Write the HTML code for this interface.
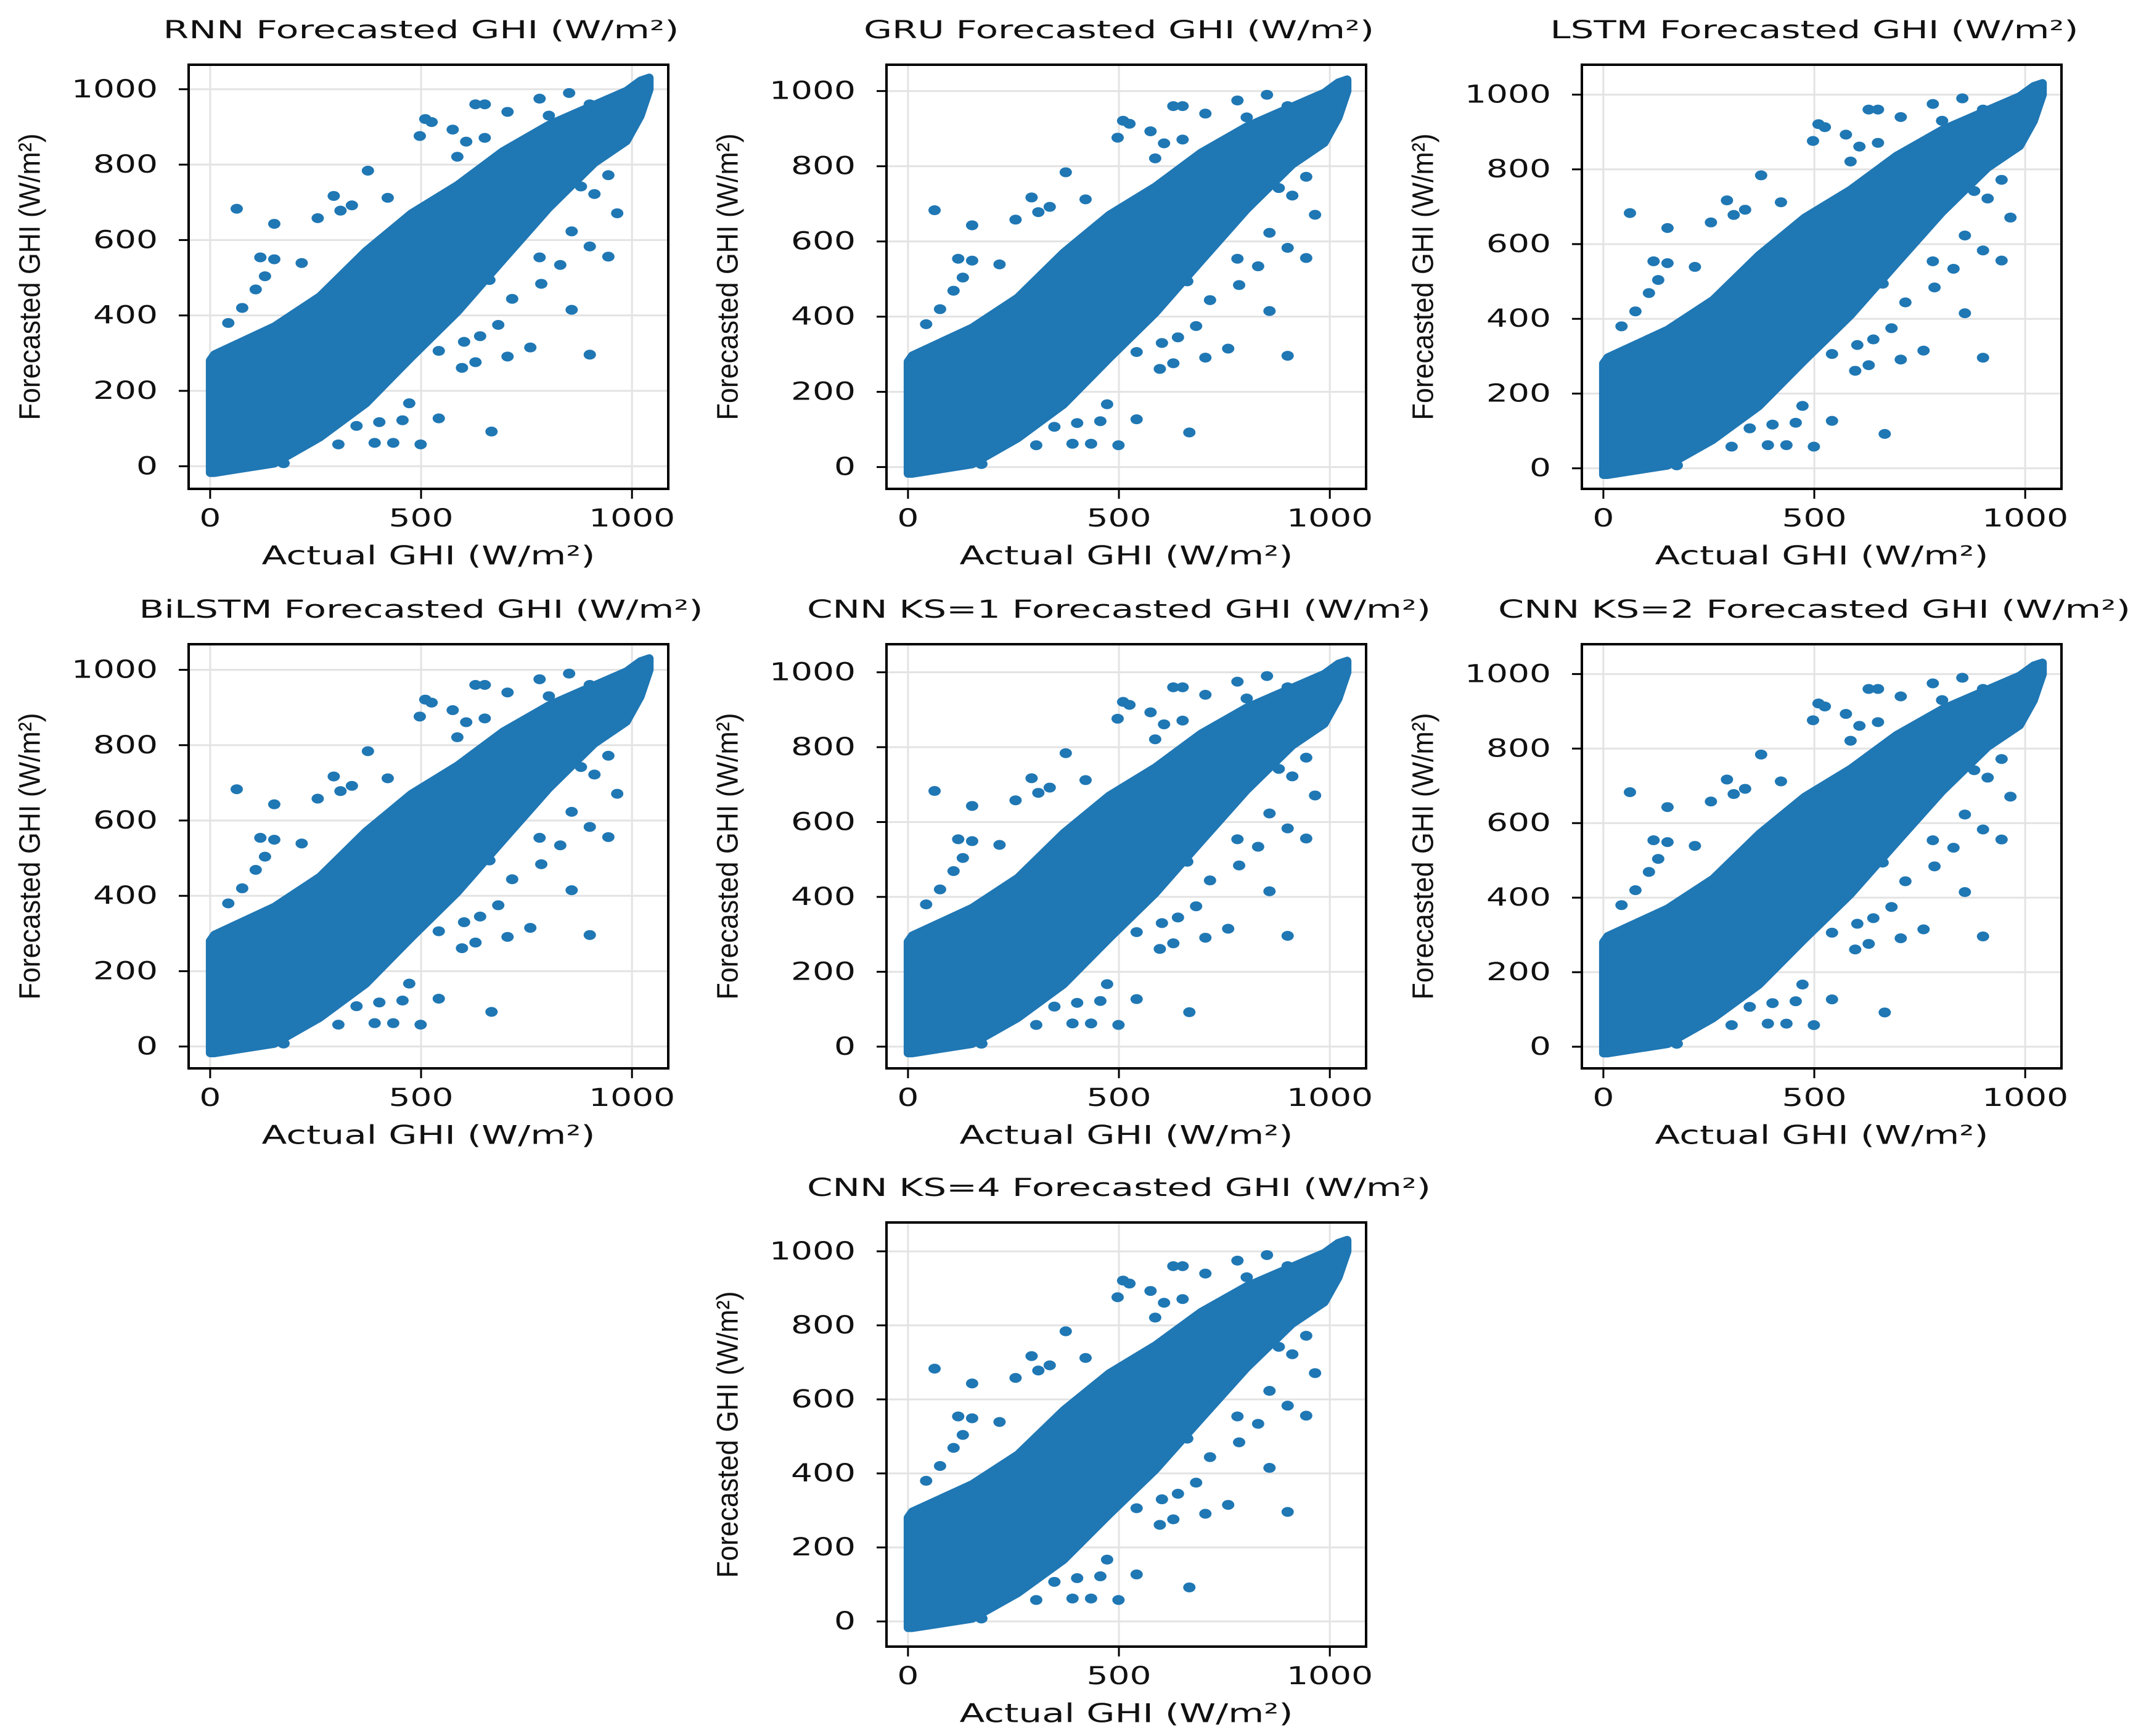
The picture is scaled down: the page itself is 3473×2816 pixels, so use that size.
<!DOCTYPE html>
<html><head><meta charset="utf-8"><style>
html,body{margin:0;padding:0;background:#fff}
svg{display:block}
text{font-family:"DejaVu Sans","Liberation Sans",sans-serif;fill:#111}
</style></head><body>
<svg id="fig" width="3473" height="2816" viewBox="0 0 3473 2816" xmlns="http://www.w3.org/2000/svg"></svg>
<script>
const panelTitles = ["RNN Forecasted GHI (W/m²)","GRU Forecasted GHI (W/m²)","LSTM Forecasted GHI (W/m²)","BiLSTM Forecasted GHI (W/m²)","CNN KS=1 Forecasted GHI (W/m²)","CNN KS=2  Forecasted GHI (W/m²)","CNN KS=4 Forecasted GHI (W/m²)"];
const titleWidths = [837,828,857,915,1012,1026,1012];
const xTicks = [0,500,1000];
const yTicks = [0,200,400,600,800,1000];
const yMins = [-60,-58,-55,-58,-58,-58,-68];
const yMaxs = [1065,1070,1080,1068,1075,1080,1078];
// dense core of scatter: band edges (actual GHI -> forecast low/high)
const bandX    = [0,  10, 152, 260, 369, 477, 586, 694, 803, 911, 987, 1020, 1041];
const bandHigh = [280,296,370, 450, 570, 670, 745, 835, 905, 958, 995, 1022, 1030];
const bandLow  = [-17,-17,8,   77,  167, 290, 410, 548, 686, 805, 863, 930, 1000];
// scattered outliers
const outX = [63,152,255,293,309,336,374,421,497,510,525,575,629,651,781,851,900,705,586,607,748,803,965,944,911,965,900,944,857,857,900,759,705,667,542,499,434,390,456,472,401,347,304,174,119,152,130,76,43,108,217,781,830,785,683,640,602,542,597,629,662,716,846,879,792,651,716];
const outY = [683,643,658,717,678,692,784,712,876,921,913,893,960,960,975,990,960,940,821,861,861,930,911,772,722,671,583,556,623,415,296,315,291,92,127,58,62,62,122,167,117,107,58,8,554,549,504,420,380,469,539,554,534,484,375,345,330,306,261,276,494,444,782,742,821,871,811];

const panelLefts = [306,1438,2566,306,1438,2566,1438];
const panelTops  = [105,105,105,1045,1045,1045,1983];
const W = 778, H = 688;
const X_MIN = -51, X_MAX = 1086;
const NS = "http://www.w3.org/2000/svg";
const svg = document.getElementById('fig');
function mk(tag, attrs, parent){const e=document.createElementNS(NS,tag);for(const k in attrs)e.setAttribute(k,attrs[k]);(parent||svg).appendChild(e);return e;}

for(let p=0;p<7;p++){
  const L=panelLefts[p], T=panelTops[p];
  const sx = v => L + (v - X_MIN)/(X_MAX - X_MIN)*W;
  const sy = v => T + H - (v - yMins[p])/(yMaxs[p]-yMins[p])*H;
  const g = mk('g',{});
  
  
  const clipId='clip'+p;
  const cp=mk('clipPath',{id:clipId},g); mk('rect',{x:L,y:T,width:W,height:H},cp);
  xTicks.forEach(t=>{const l=mk('line',{x1:sx(t),x2:sx(t),y1:T,y2:T+H,stroke:'#e3e3e3','stroke-width':3},g);
    
    });
  yTicks.forEach(t=>{const l=mk('line',{x1:L,x2:L+W,y1:sy(t),y2:sy(t),stroke:'#e3e3e3','stroke-width':3},g);
    
    });
  const dg = mk('g',{'clip-path':'url(#'+clipId+')'},g);
  
  
  let pts=[];
  for(let i=0;i<bandX.length;i++) pts.push(sx(bandX[i])+','+sy(bandHigh[i]));
  for(let i=bandX.length-1;i>=0;i--) pts.push(sx(bandX[i])+','+sy(bandLow[i]));
  const poly = mk('polygon',{points:pts.join(' '),fill:'#1f77b4',stroke:'#1f77b4','stroke-width':14,'stroke-linejoin':'round'},dg);
  
  
  for(let i=0;i<outX.length;i++){
    const c = mk('ellipse',{cx:sx(outX[i]),cy:sy(outY[i]),rx:10,ry:8,fill:'#1f77b4'},dg);
    
    
  }
  const box = mk('rect',{x:L,y:T,width:W,height:H,fill:'none',stroke:'#000','stroke-width':4},g);
  
  
  xTicks.forEach(t=>{
    mk('line',{x1:sx(t),x2:sx(t),y1:T+H,y2:T+H+16,stroke:'#000','stroke-width':3},g);
    const s=String(t);
    const tx=mk('text',{x:sx(t),y:T+H+48,'text-anchor':'middle','dominant-baseline':'central','font-size':40,textLength:s.length*35,lengthAdjust:'spacingAndGlyphs'},g);
    tx.textContent=s;
    
    
  });
  yTicks.forEach(t=>{
    mk('line',{x1:L-16,x2:L,y1:sy(t),y2:sy(t),stroke:'#000','stroke-width':3},g);
    const s=String(t);
    const tx=mk('text',{x:L-50,y:sy(t),'text-anchor':'end','dominant-baseline':'central','font-size':40,textLength:s.length*35,lengthAdjust:'spacingAndGlyphs'},g);
    tx.textContent=s;
    
    
  });
  const tt=mk('text',{x:L+W/2-12,y:T-56,'text-anchor':'middle','dominant-baseline':'central','font-size':40,textLength:titleWidths[p],lengthAdjust:'spacingAndGlyphs'},g);
  tt.textContent=panelTitles[p];
  
  
  const xl=mk('text',{x:L+W/2,y:T+H+108,'text-anchor':'middle','dominant-baseline':'central','font-size':42,textLength:541,lengthAdjust:'spacingAndGlyphs'},g);
  xl.textContent='Actual GHI (W/m²)';
  
  
  const cx=L-257, cy=T+H/2;
  const yl=mk('text',{x:cx,y:cy,'text-anchor':'middle','dominant-baseline':'central','font-size':48,textLength:465,lengthAdjust:'spacingAndGlyphs',transform:'rotate(-90 '+cx+' '+cy+')',style:'font-family:"Liberation Sans",sans-serif'},g);
  yl.textContent='Forecasted GHI (W/m²)';
  
  
}
</script>
</body></html>
